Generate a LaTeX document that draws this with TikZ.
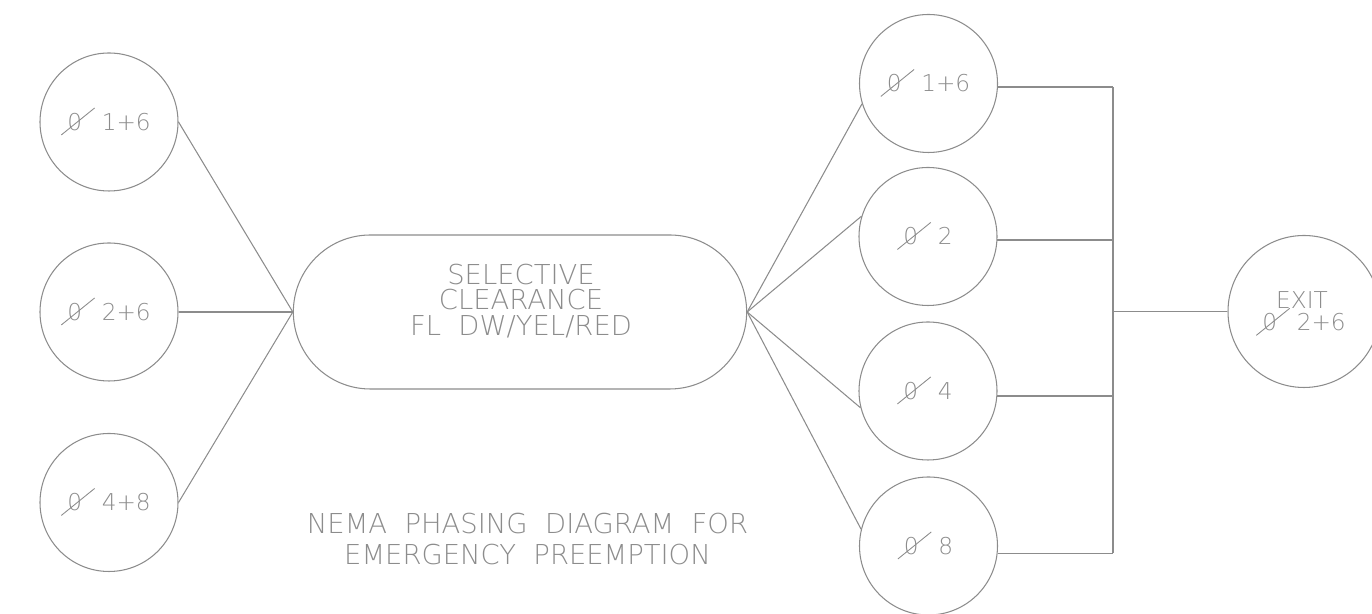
\documentclass[tikz,border=0pt]{standalone}
\usepackage{xcolor}
\usepackage{fontspec}
\usetikzlibrary{shapes.misc}

\newfontfamily\cadfont{DejaVuSans-ExtraLight.ttf}
\definecolor{cadgray}{RGB}{140,140,140}

% phase mark: a zero struck through by a long slash
\newcommand\phz{\makebox[0pt][l]{\smash{\kern-0.27em\raisebox{-0.21em}{\rotatebox{39}{\rule{1.85em}{0.5pt}}}}}0}

\begin{document}
\begin{tikzpicture}[
  phase/.style={draw=cadgray, circle, line width=0.6pt, minimum size=2.76cm, inner sep=0pt,
    text=cadgray, font=\cadfont\fontsize{13.2}{16}\selectfont},
  pill/.style={draw=cadgray, rounded rectangle, line width=0.6pt, minimum width=9.3cm, minimum height=3.08cm},
  link/.style={draw=cadgray, line width=0.6pt},
  bus/.style={draw=cadgray, line width=0.8pt},
  lbl/.style={text=cadgray, align=center, inner sep=0pt}
]
\useasboundingbox (0,0) rectangle (27.44,12.28);

% phases going in
\node (l1) at (2.18,9.84) [phase] {\phz\hspace{0.85em}1+6};
\node (l2) at (2.18,6.04) [phase] {\phz\hspace{0.85em}2+6};
\node (l3) at (2.18,2.23) [phase] {\phz\hspace{0.85em}4+8};

% clearance step
\node (sc) at (10.4,6.04) [pill] {};
\node (sctext) at (10.42,6.26) [lbl, font=\cadfont\fontsize{15.6}{14.7}\selectfont]
  {SELECTIVE\\CLEARANCE\\FL\ \ DW/YEL/RED};

% phases coming out
\node (r1) at (18.57,10.61) [phase] {\phz\hspace{0.85em}1+6};
\node (r2) at (18.56,7.55) [phase] {\phz\hspace{0.85em}2};
\node (r3) at (18.56,4.46) [phase] {\phz\hspace{0.85em}4};
\node (r4) at (18.57,1.36) [phase] {\phz\hspace{0.85em}8};

\node (ex) at (26.08,6.05) [phase, minimum size=3.04cm, align=left,
  font=\cadfont\fontsize{13.2}{12.6}\selectfont] {\hspace{0.6em}EXIT\\\phz\hspace{0.85em}2+6};

\coordinate (bus) at (22.26,0);

\draw [link] (l1.east) -- (sc.west);
\draw [link] (l2.east) -- (sc.west);
\draw [link] (l3.east) -- (sc.west);

\draw [link] (sc.east) -- (r1.197);
\draw [link] (sc.east) -- (r2.163);
\draw [link] (sc.east) -- (r3.194);
\draw [link] (sc.east) -- (r4.166);

\draw [bus] (r1.-3) -- (r1.-3 -| bus);
\draw [bus] (r2.-3) -- (r2.-3 -| bus);
\draw [bus] (r3.-4) -- (r3.-4 -| bus);
\draw [bus] (r4.-6) -- (r4.-6 -| bus);
\draw [bus] (r1.-3 -| bus) -- (r4.-6 -| bus);
\draw [bus] (ex.west -| bus) -- (ex.west);

\node (cap) at (10.55,1.5) [lbl, font=\cadfont\fontsize{15.6}{18.1}\selectfont]
  {NEMA\ \ PHASING\ \ DIAGRAM\ \ FOR\\EMERGENCY\ \ PREEMPTION};
\end{tikzpicture}
\end{document}
